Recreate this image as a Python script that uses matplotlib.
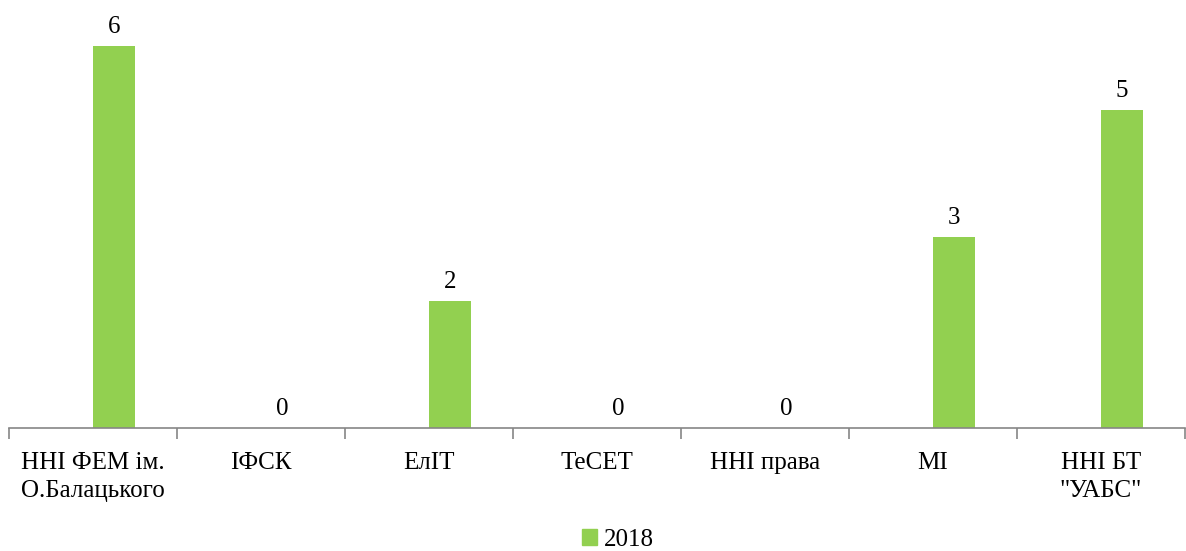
import matplotlib
matplotlib.use("Agg")
import matplotlib.pyplot as plt
from matplotlib.patches import Rectangle
import numpy as np

categories = ["ННІ ФЕМ ім.\nО.Балацького", "ІФСК", "ЕлІТ", "ТеСЕТ", "ННІ права", "МІ", "ННІ БТ\n\"УАБС\""]
values_2018 = [6, 0, 2, 0, 0, 3, 5]
series_name = "2018"

W, H = 1186, 551
fig = plt.figure(figsize=(W / 100, H / 100), dpi=100)
ax = fig.add_axes([9 / W, 123 / H, 1176 / W, 414 / H])

FAM = ['Liberation Serif', 'DejaVu Serif']
plt.rcParams['font.family'] = FAM
color = "#92D050"
n = len(categories)
x = np.arange(n)
bw = 0.25
offset = bw / 2
ax.bar(x + offset, values_2018, width=bw, color=color, label=series_name)
for xi, v in zip(x, values_2018):
    ax.text(xi + offset, v + 0.12, str(v), ha="center", va="bottom",
            fontsize=18, family=FAM, color="#000000")

ax.set_xlim(-0.5, n - 0.5)
ax.set_ylim(0, 6.5)
for s in ["top", "right", "left"]:
    ax.spines[s].set_visible(False)
ax.spines["bottom"].set_color("#868686")
ax.spines["bottom"].set_linewidth(1.2)
ax.set_yticks([])
ax.set_xticks(np.arange(n + 1) - 0.5)
ax.set_xticklabels([])
ax.tick_params(axis="x", length=8, width=1.2, color="#868686")
ax.set_xticks(x, minor=True)
ax.set_xticklabels(categories, minor=True, fontsize=18, family=FAM, linespacing=1.4)
ax.tick_params(axis="x", which="minor", length=0, pad=17)

fig.legend([Rectangle((0, 0), 1, 1, color=color)], [series_name], loc="center",
           bbox_to_anchor=(618 / W, 1 - 540 / H), frameon=False,
           prop={'family': FAM, 'size': 18},
           handlelength=0.6, handleheight=0.6, handletextpad=0.3)

fig.savefig("out.png", dpi=100)
